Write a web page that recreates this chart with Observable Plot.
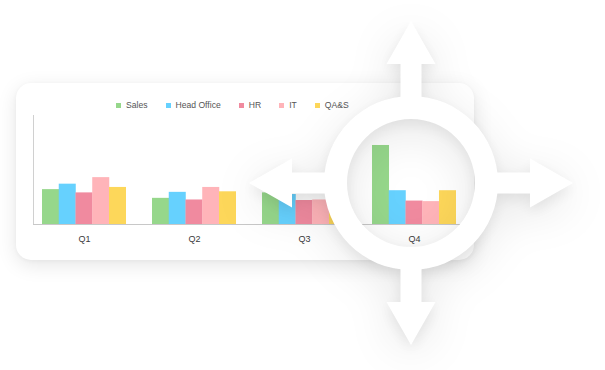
<!DOCTYPE html>
<html>
<head>
<meta charset="utf-8">
<script src="https://cdn.jsdelivr.net/npm/d3@7"></script>
<script src="https://cdn.jsdelivr.net/npm/@observablehq/plot@0.6"></script>
<style>
  html, body { margin: 0; padding: 0; background: #fff; }
  #stage { position: relative; width: 605px; height: 370px; overflow: hidden;
           font-family: "Liberation Sans", Arial, sans-serif; }
  #card { position: absolute; left: 16px; top: 83px; width: 458px; height: 177px;
          border-radius: 15px; background: #fff;
          box-shadow: 0 5px 20px rgba(0,0,0,0.10), 0 1px 4px rgba(0,0,0,0.04); }
  #legend { position: absolute; left: 116px; top: 99px; height: 12px; display: flex;
            align-items: center; font-size: 8.6px; color: #555; white-space: nowrap; }
  #legend .item { display: flex; align-items: center; margin-right: 18px; }
  #legend .sw { width: 5px; height: 5px; margin-right: 5px; }
  #chart { position: absolute; left: 0; top: 0; }
  #chart svg { background: transparent; }
  #move { position: absolute; left: 0; top: 0;
          filter: drop-shadow(0 5px 7px rgba(0,0,0,0.08)) drop-shadow(0 10px 22px rgba(0,0,0,0.11)); }
</style>
</head>
<body>
<div id="stage">
  <div id="card"></div>
  <div id="legend"></div>
  <div id="chart"></div>
  <svg id="move" width="605" height="370"></svg>
</div>
<script>
// Quarterly figures per department
const quarters = ["Q1", "Q2", "Q3", "Q4"];
const departments = ["Sales", "Head Office", "HR", "IT", "QA&S"];
const colors = ["#96d78b", "#66d1fe", "#f08a9f", "#ffb4b9", "#fdd75a"];
const sales      = [32, 24, 29, 72.5];
const headOffice = [37, 29.5, 27.5, 31];
const hr         = [29, 22.5, 22, 21.5];
const it         = [43, 34, 22.5, 21];
const qas        = [34, 30, 29, 31];

const series = [sales, headOffice, hr, it, qas];
const rows = departments.flatMap((dept, i) =>
  quarters.map((q, j) => ({quarter: q, dept, value: series[i][j]}))
);

// Legend
const legend = document.getElementById("legend");
departments.forEach((d, i) => {
  const item = document.createElement("div");
  item.className = "item";
  item.innerHTML = `<span class="sw" style="background:${colors[i]}"></span><span>${d}</span>`;
  legend.appendChild(item);
});

// Band layout for the quarter groups
const W = 605, H = 370;
const mLeft = 33, mRight = 145, mTop = 115, mBottom = 146;
const xOpts = {paddingInner: 0.239, paddingOuter: 0.06, align: 0.7};
const bw = d3.scaleBand(quarters, [mLeft, W - mRight])
  .paddingInner(xOpts.paddingInner).paddingOuter(xOpts.paddingOuter).align(xOpts.align)
  .bandwidth();
const sub = bw / departments.length;

const chart = Plot.plot({
  width: W,
  height: H,
  marginLeft: mLeft,
  marginRight: mRight,
  marginTop: mTop,
  marginBottom: mBottom,
  style: {background: "transparent", fontSize: "9px", fontFamily: "Liberation Sans, Arial, sans-serif", color: "#3a3a3a"},
  x: {domain: quarters, ...xOpts, tickSize: 0, tickPadding: 11, label: null},
  y: {domain: [0, 100], axis: null},
  color: {domain: departments, range: colors},
  marks: [
    ...departments.map((dept, i) =>
      Plot.barY(rows.filter(r => r.dept === dept), {
        x: "quarter", y: "value", fill: "dept",
        insetLeft: i * sub, insetRight: (departments.length - 1 - i) * sub
      })
    ),
    Plot.frame({anchor: "left", stroke: "#d0d0d0"}),
    Plot.ruleY([0], {stroke: "#c8c8c8"})
  ]
});
document.getElementById("chart").appendChild(chart);

// Move handle: ring with four arrows
const cx = 411, cy = 183;
const rOuter = 87, rInner = 64;
const shaftHalf = 10.5, headHalf = 24.5, headBase = 119, tip = 162;
const svg = d3.select("#move");
const g = svg.append("g").attr("fill", "#fff");
g.append("path")
  .attr("fill-rule", "evenodd")
  .attr("d", `M${cx - rOuter},${cy}a${rOuter},${rOuter} 0 1,0 ${2 * rOuter},0a${rOuter},${rOuter} 0 1,0 ${-2 * rOuter},0Z` +
             `M${cx - rInner},${cy}a${rInner},${rInner} 0 1,0 ${2 * rInner},0a${rInner},${rInner} 0 1,0 ${-2 * rInner},0Z`);
[0, 90, 180, 270].forEach(angle => {
  const pts = [
    [-shaftHalf, -(rInner + 8)], [-shaftHalf, -headBase], [-headHalf, -headBase],
    [0, -tip], [headHalf, -headBase], [shaftHalf, -headBase], [shaftHalf, -(rInner + 8)]
  ];
  g.append("path")
    .attr("transform", `translate(${cx},${cy}) rotate(${angle})`)
    .attr("d", "M" + pts.map(p => p.join(",")).join("L") + "Z");
});
</script>
</body>
</html>
